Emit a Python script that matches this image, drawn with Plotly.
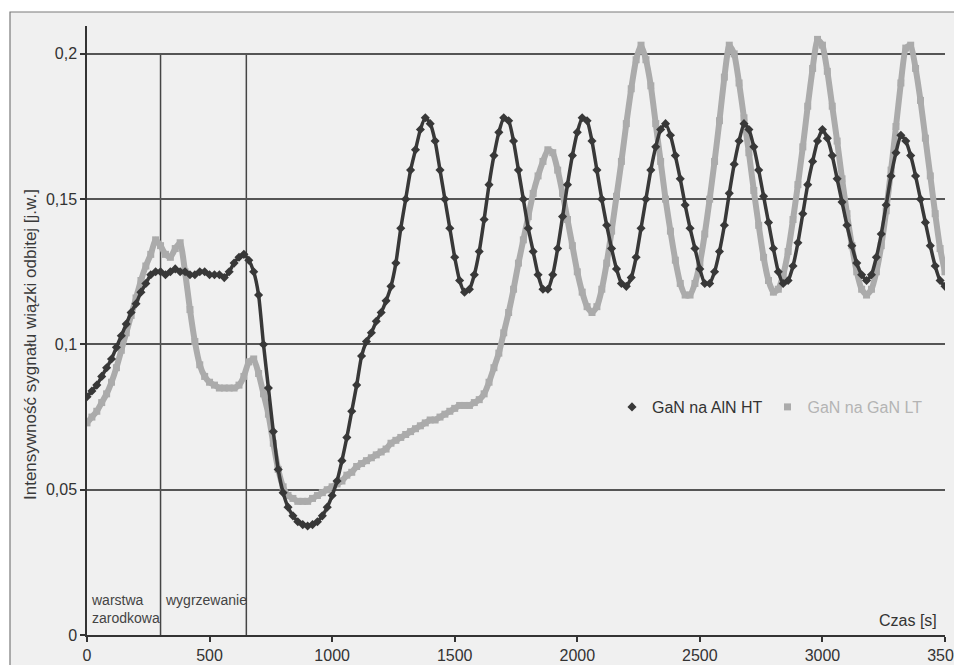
import plotly.graph_objects as go

# time axis [s], sampled every 20 s
time_s = list(range(0, 3501, 20))

# GaN na AlN HT (dark diamonds)
ht = [0.082, 0.084, 0.086, 0.089, 0.092, 0.095, 0.099, 0.103, 0.107, 0.111,
      0.114, 0.118, 0.121, 0.124, 0.125, 0.125, 0.124, 0.125, 0.126, 0.125,
      0.125, 0.124, 0.124, 0.125, 0.125, 0.124, 0.124, 0.124, 0.123, 0.125,
      0.128, 0.130, 0.131, 0.129, 0.125, 0.117, 0.100, 0.085, 0.070, 0.057,
      0.049, 0.044, 0.041, 0.039, 0.038, 0.0375, 0.038, 0.039, 0.041, 0.044,
      0.048, 0.053, 0.060, 0.068, 0.077, 0.086, 0.096, 0.101, 0.104, 0.108,
      0.111, 0.115, 0.120, 0.128, 0.140, 0.150, 0.160, 0.167, 0.174, 0.178,
      0.176, 0.170, 0.160, 0.150, 0.140, 0.130, 0.122, 0.118, 0.119, 0.124,
      0.132, 0.143, 0.155, 0.165, 0.173, 0.178, 0.177, 0.170, 0.160, 0.150,
      0.140, 0.132, 0.124, 0.119, 0.119, 0.124, 0.133, 0.144, 0.155, 0.165,
      0.173, 0.178, 0.177, 0.170, 0.160, 0.150, 0.141, 0.133, 0.126, 0.121,
      0.120, 0.123, 0.130, 0.140, 0.150, 0.160, 0.168, 0.174, 0.176, 0.172,
      0.165, 0.157, 0.148, 0.140, 0.133, 0.126, 0.121, 0.121, 0.125, 0.132,
      0.141, 0.152, 0.162, 0.170, 0.176, 0.174, 0.168, 0.160, 0.151, 0.142,
      0.133, 0.125, 0.121, 0.122, 0.127, 0.135, 0.145, 0.155, 0.163, 0.170,
      0.174, 0.171, 0.165, 0.157, 0.149, 0.141, 0.134, 0.128, 0.124, 0.122,
      0.124, 0.130, 0.138, 0.148, 0.158, 0.166, 0.172, 0.170, 0.165, 0.158,
      0.150, 0.142, 0.134, 0.127, 0.122, 0.120]

# GaN na GaN LT (light squares)
lt = [0.073, 0.075, 0.077, 0.080, 0.083, 0.087, 0.092, 0.098, 0.104, 0.110,
      0.116, 0.122, 0.127, 0.131, 0.136, 0.134, 0.131, 0.130, 0.133, 0.135,
      0.125, 0.112, 0.101, 0.093, 0.089, 0.087, 0.086, 0.085, 0.085, 0.085,
      0.085, 0.086, 0.089, 0.094, 0.095, 0.090, 0.083, 0.076, 0.066, 0.057,
      0.051, 0.048, 0.047, 0.046, 0.046, 0.046, 0.047, 0.048, 0.049, 0.050,
      0.051, 0.052, 0.053, 0.055, 0.056, 0.058, 0.059, 0.060, 0.061, 0.062,
      0.063, 0.064, 0.066, 0.067, 0.068, 0.069, 0.070, 0.071, 0.072, 0.073,
      0.074, 0.074, 0.075, 0.076, 0.077, 0.078, 0.079, 0.079, 0.079, 0.080,
      0.081, 0.083, 0.087, 0.092, 0.097, 0.104, 0.111, 0.119, 0.128, 0.136,
      0.144, 0.152, 0.158, 0.163, 0.167, 0.166, 0.160, 0.152, 0.143, 0.134,
      0.125, 0.118, 0.113, 0.111, 0.113, 0.119, 0.128, 0.139, 0.151, 0.163,
      0.176, 0.188, 0.198, 0.203, 0.198, 0.189, 0.176, 0.163, 0.150, 0.139,
      0.129, 0.121, 0.117, 0.117, 0.121, 0.128, 0.138, 0.150, 0.163, 0.177,
      0.192, 0.203, 0.200, 0.190, 0.178, 0.166, 0.153, 0.141, 0.130, 0.122,
      0.118, 0.119, 0.124, 0.132, 0.143, 0.155, 0.168, 0.182, 0.195, 0.205,
      0.203, 0.194, 0.182, 0.170, 0.157, 0.145, 0.134, 0.125, 0.119, 0.117,
      0.119, 0.125, 0.134, 0.146, 0.160, 0.175, 0.190, 0.202, 0.203, 0.195,
      0.184, 0.171, 0.158, 0.145, 0.133, 0.125]

y_ticks = [0, 0.05, 0.1, 0.15, 0.2]
y_tick_labels = ["0", "0,05", "0,1", "0,15", "0,2"]
x_ticks = [0, 500, 1000, 1500, 2000, 2500, 3000, 3500]
phase_bounds = [300, 650]

FONT = "Liberation Sans, Arial, sans-serif"
DARK = "#383838"
LIGHT = "#ababab"

fig = go.Figure()
# continuous bands formed by the dense measurement points
fig.add_trace(go.Scatter(
    x=time_s, y=lt, mode="lines", showlegend=False, hoverinfo="skip",
    line=dict(color=LIGHT, width=6, shape="spline", smoothing=0.5)))
fig.add_trace(go.Scatter(
    x=time_s, y=lt, mode="markers", name="<span style='color:#b4b4b4'>GaN na GaN LT</span>",
    marker=dict(symbol="square", size=7, color=LIGHT)))
fig.add_trace(go.Scatter(
    x=time_s, y=ht, mode="lines", showlegend=False, hoverinfo="skip",
    line=dict(color=DARK, width=3.5, shape="spline", smoothing=0.5)))
fig.add_trace(go.Scatter(
    x=time_s, y=ht, mode="markers", name="GaN na AlN HT",
    marker=dict(symbol="diamond", size=7, color=DARK)))

# page offset of 8 px (body margin) is compensated in the figure size/margins
OFF = 8
W, H = 962 - OFF, 665 - OFF
L, R, T, B = 87, 945, 26, 635          # plot area in page pixels
def px(xp):
    return (xp - L) / (R - L)
def py(yp):
    return (B - yp) / (B - T)

shapes = [
    dict(type="rect", xref="paper", yref="paper", x0=px(10), x1=px(990),
         y0=py(700), y1=py(12), fillcolor="#f0f0f0",
         line=dict(color="#7a7a7a", width=1.2), layer="below"),
]
for xb in phase_bounds:
    shapes.append(dict(type="line", xref="x", yref="y", x0=xb, x1=xb, y0=0, y1=0.2,
                       line=dict(color="#454545", width=1.5), layer="below"))

fig.update_layout(
    width=W, height=H,
    margin=dict(l=L - OFF, r=W - (R - OFF), t=T - OFF, b=H - (B - OFF), autoexpand=False),
    paper_bgcolor="white", plot_bgcolor="rgba(0,0,0,0)",
    font=dict(family=FONT, size=16, color="#333333"),
    shapes=shapes,
    showlegend=True,
    legend=dict(orientation="h", x=px(612), y=py(407), xanchor="left", yanchor="middle",
                bgcolor="rgba(0,0,0,0)", font=dict(size=16, color="#333333"),
                traceorder="reversed", itemwidth=30),
    xaxis=dict(range=[0, 3500], tickvals=x_ticks, tickformat="d", automargin=False,
               ticklabeloverflow="allow",
               showgrid=False, zeroline=False, showline=True,
               linecolor="#333333", linewidth=1.5, ticks="outside", ticklen=5,
               tickcolor="#333333", tickwidth=1.5),
    yaxis=dict(range=[0, 0.2096], tickvals=y_ticks, ticktext=y_tick_labels, automargin=False,
               ticklabeloverflow="allow",
               showgrid=True, gridcolor="#555555", gridwidth=1.5, zeroline=False,
               showline=True, linecolor="#333333", linewidth=1.5, ticks="outside",
               ticklen=5, tickcolor="#333333", tickwidth=1.5),
    annotations=[
        dict(text="Intensywność sygnału wiązki odbitej [j.w.]", xref="paper", yref="paper",
             x=px(30), y=py(345), xanchor="center", yanchor="middle",
             textangle=-90, showarrow=False,
             font=dict(size=17, color="#3a3a3a")),
        dict(text="Czas [s]", xref="paper", yref="paper", x=px(939), y=py(620),
             xanchor="right", yanchor="middle", showarrow=False,
             font=dict(size=16, color="#333333")),
        dict(text="warstwa<br>zarodkowa", xref="x", yref="paper", x=8, y=py(590),
             xanchor="left", yanchor="top", align="left", showarrow=False,
             font=dict(size=14, color="#444444")),
        dict(text="wygrzewanie", xref="x", yref="paper", x=312, y=py(590),
             xanchor="left", yanchor="top", align="left", showarrow=False,
             font=dict(size=14, color="#444444")),
    ],
)

fig.write_html("out.html")
